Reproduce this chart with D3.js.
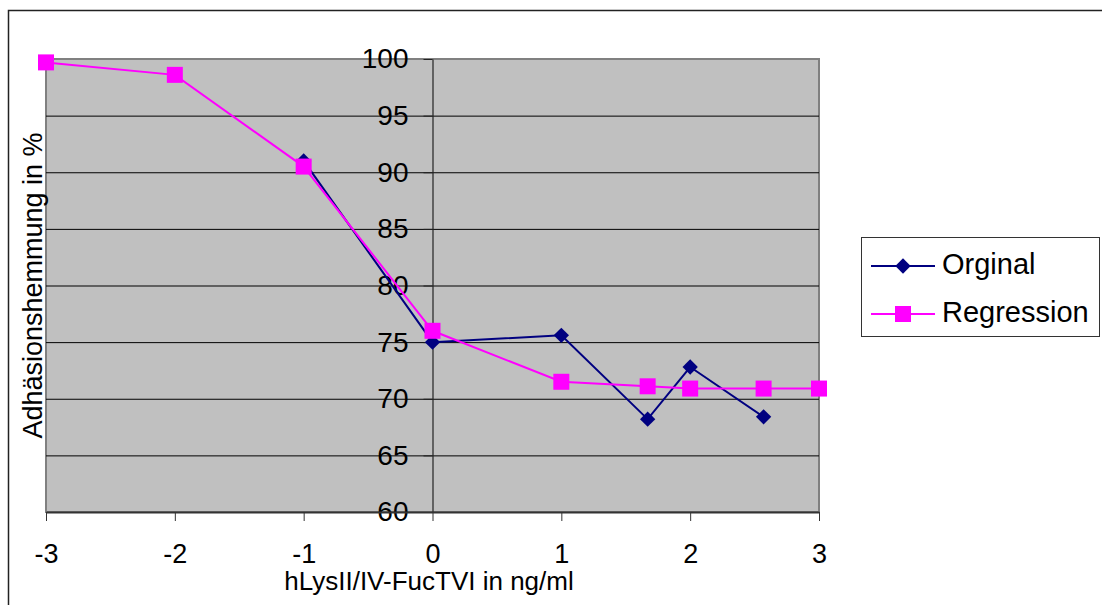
<!DOCTYPE html>
<html>
<head>
<meta charset="utf-8">
<script src="https://cdn.jsdelivr.net/npm/d3@7"></script>
<style>
  body { margin: 0; background: #fff; }
  svg { display: block; font-family: "Liberation Sans", Arial, sans-serif; }
</style>
</head>
<body>
<div id="chart"></div>
<script>
// values
const xOrig = [-1, 0, 1, 1.67, 2, 2.57];
const yOrig = [91.0, 75.0, 75.6, 68.2, 72.8, 68.4];
const xReg = [-3, -2, -1, 0, 1, 1.67, 2, 2.57, 3];
const yReg = [99.7, 98.6, 90.5, 76.0, 71.5, 71.1, 70.9, 70.9, 70.9];
const xTicks = [-3, -2, -1, 0, 1, 2, 3];
const yTicks = [60, 65, 70, 75, 80, 85, 90, 95, 100];
const seriesNames = ["Orginal", "Regression"];

const width = 1102;
const height = 605;
const margin = { top: 59, right: 283, bottom: 93, left: 46 };

const svg = d3.select("#chart")
  .append("svg")
  .attr("width", width)
  .attr("height", height);

// outer chart frame
svg.append("rect")
  .attr("x", 8.5)
  .attr("y", 10.5)
  .attr("width", 1100)
  .attr("height", 620)
  .attr("fill", "none")
  .attr("stroke", "#222")
  .attr("stroke-width", 1.5);

const x = d3.scaleLinear()
  .domain([-3, 3])
  .range([margin.left, width - margin.right]);

const y = d3.scaleLinear()
  .domain([60, 100])
  .range([height - margin.bottom, margin.top]);

// plot area
svg.append("rect")
  .attr("x", x(-3))
  .attr("y", y(100))
  .attr("width", x(3) - x(-3))
  .attr("height", y(60) - y(100))
  .attr("fill", "#c0c0c0")
  .attr("stroke", "#808080")
  .attr("stroke-width", 2);

// gridlines
const grid = svg.append("g")
  .attr("transform", `translate(${x(-3)},0)`)
  .call(d3.axisLeft(y).tickValues(yTicks.filter(v => v > 60 && v < 100))
    .tickSize(-(x(3) - x(-3))).tickFormat(""));
grid.select(".domain").remove();
grid.selectAll("line").attr("stroke", "#000").attr("stroke-width", 1);

// y axis at x = 0
const yAxis = svg.append("g")
  .attr("transform", `translate(${x(0)},0)`)
  .call(d3.axisLeft(y).tickValues(yTicks).tickSize(9).tickSizeOuter(0).tickPadding(15));
yAxis.select(".domain").attr("stroke", "#222").attr("stroke-width", 1.2);
yAxis.selectAll("line").attr("stroke", "#222");
yAxis.selectAll("text")
  .attr("fill", "#000")
  .style("font-size", "28px")
  .attr("font-family", null);

// x axis at bottom
const xAxis = svg.append("g")
  .attr("transform", `translate(0,${y(60)})`)
  .call(d3.axisBottom(x).tickValues(xTicks).tickFormat(d => String(d))
    .tickSize(9).tickSizeOuter(0).tickPadding(23));
xAxis.select(".domain").attr("stroke", "#333").attr("stroke-width", 2);
xAxis.selectAll("line").attr("stroke", "#333");
xAxis.selectAll("text")
  .attr("fill", "#000")
  .style("font-size", "27px")
  .attr("font-family", null);

// axis titles
svg.append("text")
  .attr("transform", "rotate(-90)")
  .attr("x", -(y(60) + y(100)) / 2)
  .attr("y", 42)
  .attr("text-anchor", "middle")
  .style("font-size", "27px")
  .text("Adhäsionshemmung in %");

svg.append("text")
  .attr("x", 429)
  .attr("y", 590)
  .attr("text-anchor", "middle")
  .style("font-size", "26px")
  .text("hLysII/IV-FucTVI in ng/ml");

// series
const orig = xOrig.map((v, i) => ({ x: v, y: yOrig[i] }));
const reg = xReg.map((v, i) => ({ x: v, y: yReg[i] }));

const line = d3.line().x(d => x(d.x)).y(d => y(d.y));
const diamond = d3.symbol().type(d3.symbolDiamond2).size(150);
const square = d3.symbol().type(d3.symbolSquare).size(256);

svg.append("path")
  .datum(orig)
  .attr("fill", "none")
  .attr("stroke", "#000080")
  .attr("stroke-width", 2)
  .attr("d", line);

svg.selectAll(".dot-orig")
  .data(orig)
  .enter()
  .append("path")
  .attr("class", "dot-orig")
  .attr("transform", d => `translate(${x(d.x)},${y(d.y)})`)
  .attr("d", diamond)
  .attr("fill", "#000080");

svg.append("path")
  .datum(reg)
  .attr("fill", "none")
  .attr("stroke", "#ff00ff")
  .attr("stroke-width", 2)
  .attr("d", line);

svg.selectAll(".dot-reg")
  .data(reg)
  .enter()
  .append("path")
  .attr("class", "dot-reg")
  .attr("transform", d => `translate(${x(d.x)},${y(d.y)})`)
  .attr("d", square)
  .attr("fill", "#ff00ff");

// legend
const legend = svg.append("g");
legend.append("rect")
  .attr("x", 861.5)
  .attr("y", 237.5)
  .attr("width", 238)
  .attr("height", 99)
  .attr("fill", "#fff")
  .attr("stroke", "#333")
  .attr("stroke-width", 1);

const legendItems = [
  { name: seriesNames[0], color: "#000080", sym: diamond, cy: 266 },
  { name: seriesNames[1], color: "#ff00ff", sym: square, cy: 314 }
];

legendItems.forEach(d => {
  legend.append("line")
    .attr("x1", 871).attr("x2", 935)
    .attr("y1", d.cy).attr("y2", d.cy)
    .attr("stroke", d.color)
    .attr("stroke-width", 2);
  legend.append("path")
    .attr("transform", `translate(903,${d.cy})`)
    .attr("d", d.sym)
    .attr("fill", d.color);
  legend.append("text")
    .attr("x", 942)
    .attr("y", d.cy + 8)
    .style("font-size", "29px")
    .text(d.name);
});
</script>
</body>
</html>
